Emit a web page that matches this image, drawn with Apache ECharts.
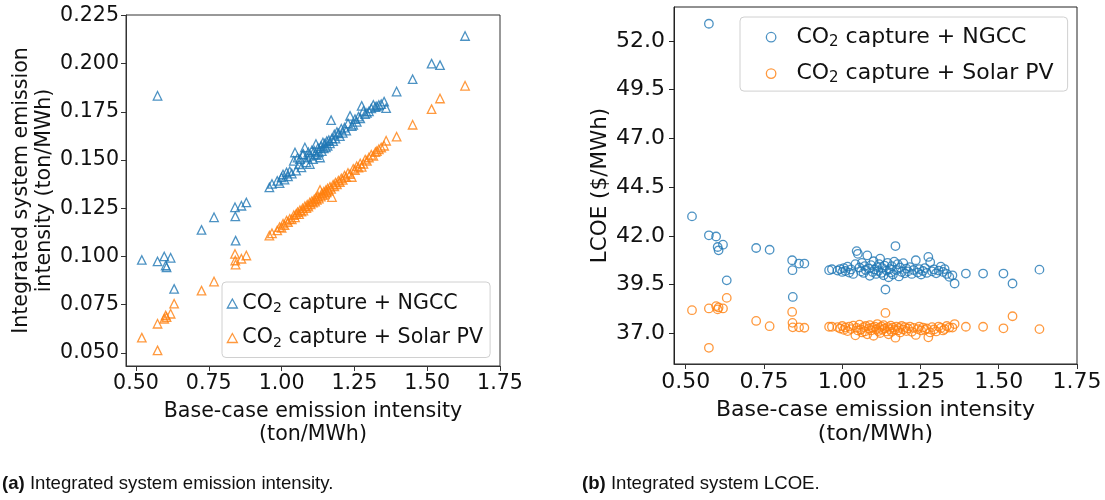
<!DOCTYPE html>
<html>
<head>
<meta charset="utf-8">
<script src="https://cdn.jsdelivr.net/npm/echarts@6/dist/echarts.min.js"></script>
<style>
html,body{margin:0;padding:0;background:#fff;}
#c{width:1105px;height:500px;}
</style>
</head>
<body>
<div id="c"></div>
<script>
// Base-case emission intensity (ton/MWh), shared by both panels
const baseX = [
  0.520, 0.574, 0.574, 0.597, 0.602, 0.605, 0.619, 0.631, 0.725, 0.768, 0.840, 0.841, 0.842, 0.862, 0.879, 0.958, 0.967,
  0.985, 0.993, 1.000, 1.005, 1.010, 1.017, 1.022, 1.028, 1.035, 1.042, 1.046, 1.050, 1.055, 1.060, 1.063, 1.068, 1.072, 1.075,
  1.080, 1.085, 1.088, 1.092, 1.097, 1.100, 1.104, 1.108, 1.112, 1.115, 1.118, 1.121, 1.125, 1.128, 1.132, 1.135, 1.138, 1.142,
  1.145, 1.148, 1.152, 1.155, 1.158, 1.162, 1.166, 1.170, 1.173, 1.177, 1.181, 1.185, 1.190, 1.195, 1.200, 1.205, 1.210, 1.216,
  1.222, 1.228, 1.235, 1.241, 1.246, 1.252, 1.258, 1.264, 1.270, 1.275, 1.281, 1.287, 1.293, 1.300, 1.308, 1.315, 1.322, 1.327,
  1.334, 1.342,
  1.352, 1.359, 1.395, 1.450, 1.515, 1.544, 1.630
];
// (a) Integrated system emission intensity (ton/MWh)
const ngccEI = [
  0.0982, 0.1833, 0.0974, 0.1000, 0.0953, 0.0944, 0.0993, 0.0832, 0.1138, 0.1203, 0.1255, 0.1208, 0.1082, 0.1263, 0.1280, 0.1358, 0.1376,
  0.1392, 0.1380, 0.1410, 0.1425, 0.1398, 0.1436, 0.1415, 0.1442, 0.1430, 0.1496, 0.1539, 0.1445, 0.1512, 0.1478, 0.1505, 0.1462, 0.1528, 0.1531,
  0.1565, 0.1488, 0.1513, 0.1540, 0.1479, 0.1522, 0.1550, 0.1505, 0.1548, 0.1531, 0.1583, 0.1526, 0.1562, 0.1540, 0.1513, 0.1572, 0.1546, 0.1591,
  0.1560, 0.1585, 0.1566, 0.1598, 0.1574, 0.1603, 0.1586, 0.1707, 0.1612, 0.1598, 0.1632, 0.1611, 0.1645, 0.1638, 0.1624, 0.1662, 0.1641, 0.1668,
  0.1652, 0.1690, 0.1729, 0.1676, 0.1683, 0.1712, 0.1698, 0.1725, 0.1716, 0.1781, 0.1755, 0.1738, 0.1744, 0.1752, 0.1768, 0.1786, 0.1775, 0.1778,
  0.1785, 0.1790,
  0.1803, 0.1769, 0.1855, 0.1919, 0.2000, 0.1992, 0.2143
];
const pvEI = [
  0.0579, 0.0513, 0.0651, 0.0677, 0.0694, 0.0685, 0.0703, 0.0755, 0.0823, 0.0870, 0.1013, 0.0979, 0.0958, 0.0988, 0.1005, 0.1108, 0.1120,
  0.1135, 0.1152, 0.1148, 0.1170, 0.1162, 0.1186, 0.1178, 0.1195, 0.1192, 0.1214, 0.1203, 0.1221, 0.1230, 0.1219, 0.1240, 0.1232, 0.1249, 0.1238,
  0.1260, 0.1251, 0.1268, 0.1259, 0.1280, 0.1270, 0.1287, 0.1279, 0.1296, 0.1284, 0.1303, 0.1294, 0.1312, 0.1300, 0.1345, 0.1310, 0.1327, 0.1318,
  0.1336, 0.1325, 0.1344, 0.1333, 0.1352, 0.1340, 0.1361, 0.1350, 0.1308, 0.1372, 0.1364, 0.1383, 0.1374, 0.1393, 0.1386, 0.1405, 0.1397, 0.1419,
  0.1411, 0.1433, 0.1427, 0.1412, 0.1454, 0.1448, 0.1468, 0.1461, 0.1482, 0.1465, 0.1480, 0.1502, 0.1496, 0.1513, 0.1527, 0.1522, 0.1541, 0.1546,
  0.1556, 0.1565,
  0.1574, 0.1600, 0.1621, 0.1683, 0.1764, 0.1819, 0.1885
];
// (b) Integrated system LCOE ($/MWh)
const ngccLCOE = [
  43.00, 52.88, 42.03, 41.97, 41.43, 41.26, 41.55, 39.72, 41.38, 41.29, 40.75, 40.24, 38.87, 40.58, 40.58, 40.24, 40.29,
  40.22, 40.30, 40.15, 40.35, 40.20, 40.42, 40.12, 40.28, 40.05, 40.55, 41.22, 41.08, 40.38, 40.18, 40.62, 40.10, 40.45, 40.25,
  41.00, 40.32, 39.95, 40.50, 40.15, 40.70, 40.28, 40.05, 40.40, 40.20, 40.55, 40.83, 40.10, 40.35, 39.98, 40.48, 39.25, 40.22,
  40.62, 39.88, 40.30, 40.12, 40.45, 40.02, 40.68, 41.48, 40.25, 40.55, 39.92, 40.38, 40.15, 40.60, 40.08, 40.32, 40.18, 40.40,
  40.05, 40.25, 40.75, 40.12, 40.30, 40.02, 40.20, 40.35, 40.10, 40.92, 40.65, 40.18, 40.28, 40.08, 40.22, 40.42, 40.15, 40.30,
  40.05, 39.90,
  39.98, 39.56, 40.07, 40.07, 40.07, 39.56, 40.27
];
const pvLCOE = [
  38.19, 36.26, 38.28, 38.40, 38.23, 38.33, 38.28, 38.82, 37.64, 37.37, 38.10, 37.54, 37.31, 37.31, 37.29, 37.34, 37.34,
  37.32, 37.25, 37.38, 37.18, 37.30, 37.12, 37.35, 37.22, 37.40, 36.90, 37.28, 37.15, 37.45, 37.20, 37.05, 37.32, 37.10, 37.38,
  36.95, 37.25, 37.42, 37.15, 37.30, 36.88, 37.35, 37.20, 37.48, 37.12, 37.28, 37.02, 37.36, 37.18, 37.42, 37.25, 38.05, 37.10,
  37.32, 36.95, 37.22, 37.40, 37.08, 37.30, 37.18, 36.78, 37.35, 37.15, 37.28, 37.05, 37.38, 37.20, 37.32, 37.12, 37.25, 37.35,
  37.08, 37.28, 36.92, 37.22, 37.35, 37.15, 37.30, 37.18, 37.25, 36.80, 37.05, 37.32, 37.20, 37.10, 37.35, 37.28, 37.15, 37.22,
  37.38, 37.30,
  37.30, 37.48, 37.34, 37.34, 37.26, 37.88, 37.22
];
const xTicks = [0.50, 0.75, 1.00, 1.25, 1.50, 1.75];
const eiTicks = [0.050, 0.075, 0.100, 0.125, 0.150, 0.175, 0.200, 0.225];
const lcoeTicks = [37.0, 39.5, 42.0, 44.5, 47.0, 49.5, 52.0];
const legendLabels = {
  a_ngcc: '{t|CO}{s|2}{t| capture + NGCC}',
  a_pv: '{t|CO}{s|2}{t| capture + Solar PV}',
  b_ngcc: '{g| }{t|CO}{s|2}{t| capture + NGCC}',
  b_pv: '{g| }{t|CO}{s|2}{t| capture + Solar PV}'
};

const BLUE = '#1f77b4', ORANGE = '#ff7f0e';
const FONT = 'DejaVu Sans';
const FS_A = 20.6, FS_B = 22;
const chart = echarts.init(document.getElementById('c'), null, {renderer: 'canvas'});

function xAxisCfg(gi, min, fs, gap, lh) {
  return {
    type: 'value', gridIndex: gi, min: min, max: 1.75,
    name: 'Base-case emission intensity\n(ton/MWh)', nameLocation: 'middle', nameGap: gap,
    nameTextStyle: {fontFamily: FONT, fontSize: fs, color: '#111', lineHeight: lh},
    axisLine: {show: true, lineStyle: {color: '#333', width: 1}},
    axisTick: {show: true, length: 5, lineStyle: {color: '#333'}, customValues: xTicks},
    axisLabel: {customValues: xTicks, formatter: v => v.toFixed(2), fontFamily: FONT, fontSize: fs, color: '#111', margin: 7},
    splitLine: {show: false}
  };
}
function legendCfg(names, icon, left, top, pad, ih, gap, fs, sfs, lh) {
  return {
    orient: 'vertical', left: left, top: top, padding: pad, itemGap: gap,
    itemWidth: 10, itemHeight: ih,
    backgroundColor: 'rgba(255,255,255,0.8)', borderColor: '#d0d0d0', borderWidth: 1, borderRadius: 4,
    selectedMode: false,
    data: names.map((n, i) => ({name: n, icon: icon,
      itemStyle: {color: 'rgba(0,0,0,0)', borderColor: i === 0 ? BLUE : ORANGE, borderWidth: 1.3}})),
    formatter: n => legendLabels[n],
    textStyle: {
      rich: {
        g: {width: 15.3, fontSize: fs, lineHeight: lh},
        t: {fontFamily: FONT, fontSize: fs, color: '#111', lineHeight: lh},
        s: {fontFamily: FONT, fontSize: sfs, color: '#111', lineHeight: sfs + 1, verticalAlign: 'bottom'}
      }
    }
  };
}
function sc(name, gi, xs, ys, color, symbol) {
  return {
    name: name, type: 'scatter', xAxisIndex: gi, yAxisIndex: gi,
    data: xs.map((x, i) => [x, ys[i]]),
    symbol: symbol, symbolSize: 8.5,
    itemStyle: {color: 'rgba(0,0,0,0)', borderColor: color, borderWidth: 1.3},
    emphasis: {disabled: true}, silent: true
  };
}

const option = {
  animation: false,
  backgroundColor: '#fff',
  grid: [
    {left: 126, top: 15, width: 374, height: 351, show: true, borderColor: '#333', borderWidth: 1, backgroundColor: 'transparent'},
    {left: 674, top: 7, width: 403, height: 357, show: true, borderColor: '#222', borderWidth: 1, backgroundColor: 'transparent'}
  ],
  xAxis: [xAxisCfg(0, 0.4657, FS_A, 34, 23), xAxisCfg(1, 0.4625, FS_B, 33, 24)],
  yAxis: [
    {
      type: 'value', gridIndex: 0, min: 0.0432, max: 0.2252,
      name: 'Integrated system emission\nintensity (ton/MWh)', nameLocation: 'middle', nameGap: 70, nameRotate: 90,
      nameTextStyle: {fontFamily: FONT, fontSize: FS_A, color: '#111', lineHeight: 23},
      axisLine: {show: true, lineStyle: {color: '#333'}},
      axisTick: {show: true, length: 5, lineStyle: {color: '#333'}, customValues: eiTicks},
      axisLabel: {customValues: eiTicks, formatter: v => v.toFixed(3), fontFamily: FONT, fontSize: FS_A, color: '#111', margin: 7},
      splitLine: {show: false}
    },
    {
      type: 'value', gridIndex: 1, min: 35.43, max: 53.74,
      name: 'LCOE ($/MWh)', nameLocation: 'middle', nameGap: 60, nameRotate: 90,
      nameTextStyle: {fontFamily: FONT, fontSize: 21.5, color: '#111', lineHeight: 24},
      axisLine: {show: true, lineStyle: {color: '#222'}},
      axisTick: {show: true, length: 5, lineStyle: {color: '#222'}, customValues: lcoeTicks},
      axisLabel: {customValues: lcoeTicks, formatter: v => v.toFixed(1), fontFamily: FONT, fontSize: FS_B, color: '#111', margin: 9},
      splitLine: {show: false}
    }
  ],
  legend: [
    legendCfg(['a_ngcc', 'a_pv'], 'triangle', 222, 282, [11, 7, 7.5, 4.7], 9, 12, FS_A, 14, 24),
    legendCfg(['b_ngcc', 'b_pv'], 'circle', 740, 17, [9.2, 14, 5, 25.7], 9.5, 12.9, FS_B, 15, 25)
  ],
  series: [
    sc('a_ngcc', 0, baseX, ngccEI, BLUE, 'triangle'),
    sc('a_pv', 0, baseX, pvEI, ORANGE, 'triangle'),
    sc('b_ngcc', 1, baseX, ngccLCOE, BLUE, 'circle'),
    sc('b_pv', 1, baseX, pvLCOE, ORANGE, 'circle')
  ],
  graphic: [
    {type: 'text', left: 2, top: 474, silent: true,
     style: {text: '{b|(a)} Integrated system emission intensity.', fontFamily: 'Liberation Sans', fontSize: 18.6, fill: '#111',
       rich: {b: {fontFamily: 'Liberation Sans', fontSize: 18.6, fontWeight: 'bold', fill: '#111'}}}},
    {type: 'text', left: 582, top: 474, silent: true,
     style: {text: '{b|(b)} Integrated system LCOE.', fontFamily: 'Liberation Sans', fontSize: 18.6, fill: '#111',
       rich: {b: {fontFamily: 'Liberation Sans', fontSize: 18.6, fontWeight: 'bold', fill: '#111'}}}}
  ]
};
chart.setOption(option);
</script>
</body>
</html>
